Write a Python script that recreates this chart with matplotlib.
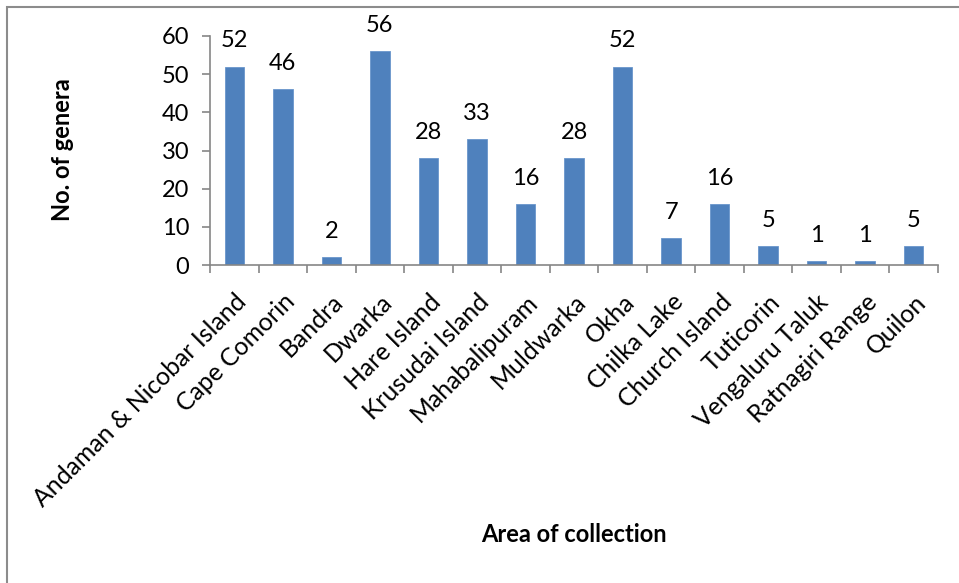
import matplotlib
matplotlib.use("Agg")
import matplotlib.pyplot as plt
from matplotlib.patches import Rectangle

plt.rcParams["font.family"] = ["Lato", "DejaVu Sans"]

# dados
areas = [
    "Andaman & Nicobar Island", "Cape Comorin", "Bandra", "Dwarka",
    "Hare Island", "Krusudai Island", "Mahabalipuram", "Muldwarka", "Okha",
    "Chilka Lake", "Church Island", "Tuticorin", "Vengaluru Taluk",
    "Ratnagiri Range", "Quilon",
]
genera = [52, 46, 2, 56, 28, 33, 16, 28, 52, 7, 16, 5, 1, 1, 5]
y_ticks = [0, 10, 20, 30, 40, 50, 60]

BAR_COLOR = "#4F81BD"
AXIS_COLOR = "#868686"
FS = 17

fig = plt.figure(figsize=(9.59, 5.83), dpi=100)
ax = fig.add_axes([210 / 959, 1 - 265 / 583, (938 - 210) / 959, (265 - 36) / 583])

# borda do gráfico (estilo Excel)
fig.patches.append(Rectangle((7 / 959, -0.05), 1.2, 1 - 7 / 583 + 0.05,
                             transform=fig.transFigure, fill=False,
                             edgecolor="#8c8c8c", linewidth=1.5))

x = list(range(len(areas)))
bars = ax.bar(x, genera, width=0.4, color=BAR_COLOR, edgecolor="#6a96cc", linewidth=0.6)

for xi, v in zip(x, genera):
    ax.annotate(str(v), (xi, v), xytext=(0, 11), textcoords="offset points",
                ha="center", va="bottom", fontsize=FS)

ax.set_xlim(-0.5, len(areas) - 0.5)
ax.set_ylim(0, 60)
ax.set_yticks(y_ticks)
ax.tick_params(axis="y", labelsize=FS, length=6, width=1.2, color=AXIS_COLOR, pad=9)

ax.set_xticks([i - 0.5 for i in range(len(areas) + 1)], minor=False)
ax.set_xticklabels([])
ax.set_xticks(x, minor=True)
ax.set_xticklabels(areas, minor=True, rotation=45, ha="right", va="top",
                   rotation_mode="anchor", fontsize=17.8)
ax.tick_params(axis="x", which="major", length=6, width=1.2, color=AXIS_COLOR)
ax.tick_params(axis="x", which="minor", length=0, pad=18)

for side in ["top", "right"]:
    ax.spines[side].set_visible(False)
for side in ["left", "bottom"]:
    ax.spines[side].set_color(AXIS_COLOR)
    ax.spines[side].set_linewidth(1.2)

fig.text(62 / 959, 1 - 150 / 583, "No. of genera", rotation=90, ha="center",
         va="center", fontsize=FS, fontweight="bold")
fig.text(574 / 959, 1 - 535 / 583, "Area of collection", ha="center",
         va="center", fontsize=FS, fontweight="bold")

fig.savefig("out.png", dpi=100)
